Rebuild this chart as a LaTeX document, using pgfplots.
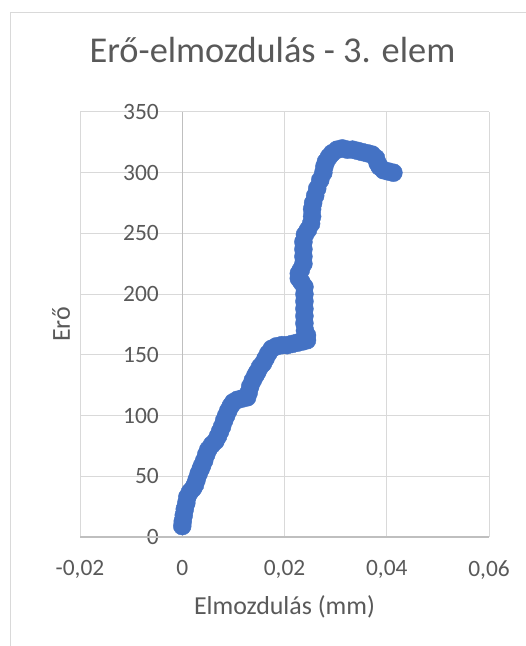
\documentclass[border=0pt]{standalone}
\usepackage{fontspec}
\setmainfont{Carlito}
\usepackage{pgfplots}
\pgfplotsset{compat=1.18}
\definecolor{txt}{HTML}{595959}
\definecolor{grd}{HTML}{D9D9D9}
\definecolor{axl}{HTML}{BFBFBF}
\definecolor{blu}{HTML}{4472C4}
\begin{document}
\begin{tikzpicture}[x=1bp,y=1bp]
\useasboundingbox (-80,-109) rectangle (446,537);
\draw[grd, line width=1bp] (-69,-109) -- (-69,524) -- (446,524);
\begin{axis}[
 anchor=south west,
 scale only axis, width=409bp, height=425bp,
 xmin=-0.02, xmax=0.06, ymin=0, ymax=350,
 xtick={-0.02,0,0.02,0.04,0.06},
 xticklabels={{-0,02},{0},{0,02},{0,04},{0,06}},
 ytick={0,50,100,150,200,250,300,350},
 yticklabels={0,50,100,150,200,250,300,350},
 scaled x ticks=false,
 grid=major, grid style={grd, line width=1bp},
 axis line style={draw=none},
 major tick length=0pt,
 tick label style={font=\fontsize{23.5}{28}\selectfont, text=txt, inner sep=0pt},
 xticklabel style={yshift=-23bp},
 yticklabel style={xshift=79bp},
 title={Erő-elmozdulás - 3. elem},
 title style={at={(axis description cs:0.4707,1.1035)}, anchor=base, font=\fontsize{36.5}{44}\selectfont, text=txt},
 xlabel={Elmozdulás (mm)},
 xlabel style={at={(axis description cs:0.5,-0.1835)}, anchor=base, font=\fontsize{26}{31}\selectfont, text=txt},
 ylabel={Erő},
 ylabel style={at={(axis description cs:-0.0245,0.5)}, anchor=base, font=\fontsize{26}{31}\selectfont, text=txt},
 clip=false,
]
\draw[axl, line width=1.3bp] (axis cs:-0.02,0) -- (axis cs:0.06,0);
\draw[axl, line width=1.3bp] (axis cs:0,0) -- (axis cs:0,350);
\addplot[only marks, mark=*, mark size=9bp, color=blu, mark options={fill=blu, draw=blu}] coordinates {
(0.0000,9) (0.0001,13) (0.0003,18) (0.0005,23) (0.0008,28) (0.0010,33)
(0.0015,37) (0.0021,40) (0.0025,43) (0.0028,47) (0.0032,52) (0.0036,56)
(0.0039,59) (0.0043,63) (0.0047,68) (0.0051,72) (0.0058,76) (0.0065,79)
(0.0070,83) (0.0074,87) (0.0078,91) (0.0082,96) (0.0086,100) (0.0090,104)
(0.0095,108) (0.0100,111) (0.0108,113) (0.0117,114) (0.0127,115) (0.0130,119)
(0.0133,124) (0.0138,129) (0.0143,133) (0.0147,136) (0.0152,140) (0.0158,143)
(0.0163,147) (0.0168,151) (0.0175,155) (0.0184,157) (0.0195,158) (0.0205,158)
(0.0215,159) (0.0225,160) (0.0235,161) (0.0244,162) (0.0244,166) (0.0240,170)
(0.0239,176) (0.0239,182) (0.0239,188) (0.0239,194) (0.0239,200) (0.0239,206)
(0.0233,210) (0.0228,213) (0.0228,217) (0.0232,220) (0.0237,225) (0.0237,231)
(0.0237,237) (0.0237,243) (0.0240,249) (0.0246,253) (0.0252,258) (0.0254,264)
(0.0254,270) (0.0256,275) (0.0260,281) (0.0264,287) (0.0270,294) (0.0276,300)
(0.0278,305) (0.0281,309) (0.0287,313) (0.0293,316) (0.0303,319) (0.0313,320)
(0.0323,319) (0.0333,319) (0.0343,318) (0.0352,317) (0.0362,316) (0.0371,315)
(0.0379,312) (0.0382,308) (0.0386,305) (0.0394,302) (0.0403,301) (0.0413,300)
};
\end{axis}
\end{tikzpicture}
\end{document}
